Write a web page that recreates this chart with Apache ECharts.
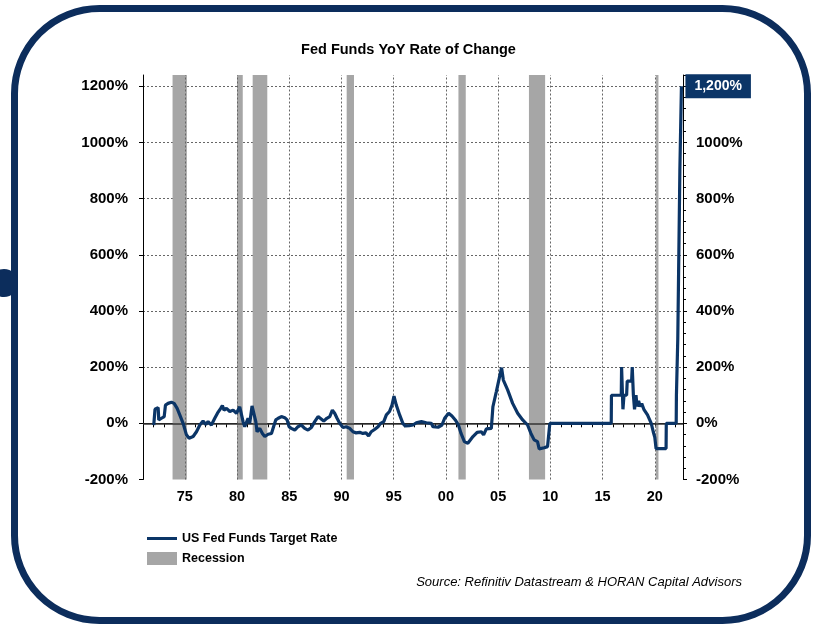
<!DOCTYPE html>
<html>
<head>
<meta charset="utf-8">
<script src="https://cdn.jsdelivr.net/npm/echarts@6/dist/echarts.min.js"></script>
<style>
  html, body { margin: 0; padding: 0; background: #fff; }
  #chart { width: 817px; height: 628px; }
</style>
</head>
<body>
<div id="chart"></div>
<script>
const FONT = '"Liberation Sans", Arial, sans-serif';

// x axis labels every 5 years (shown as 2 digits)
const labelYears = [1975, 1980, 1985, 1990, 1995, 2000, 2005, 2010, 2015, 2020];

// recession periods (decimal years)
const recessionStart = [1973.83, 1980.0, 1981.5, 1990.5, 2001.2, 2007.95, 2020.1];
const recessionEnd   = [1975.2, 1980.55, 1982.9, 1991.2, 2001.9, 2009.5, 2020.35];

// US Fed Funds Target Rate, YoY % change [year, value]
const fedFundsYoY = [
  [1972.03, -6], [1972.15, 50], [1972.22, 56], [1972.45, 56], [1972.51, 12], [1972.77, 18],
  [1973.03, 24], [1973.15, 65], [1973.40, 71], [1973.72, 75], [1973.98, 71], [1974.27, 53],
  [1974.52, 30], [1974.84, 0], [1975.16, -41], [1975.41, -53], [1975.80, -47], [1976.12, -30],
  [1976.44, -6], [1976.75, 8], [1977.01, -4], [1977.23, 6], [1977.55, -6], [1977.87, 18],
  [1978.13, 36], [1978.44, 53], [1978.60, 63], [1978.76, 47], [1978.99, 53], [1979.31, 42],
  [1979.63, 47], [1979.95, 36], [1980.26, 59], [1980.58, 6], [1980.74, -12], [1981.06, 18],
  [1981.22, 0], [1981.44, 62], [1981.55, 55], [1981.80, 6], [1981.92, -30], [1982.18, -18],
  [1982.43, -36], [1982.66, -47], [1982.98, -39], [1983.30, -36], [1983.50, -12], [1983.71, 12],
  [1983.95, 18], [1984.25, 24], [1984.57, 20], [1984.80, 12], [1984.98, -12], [1985.20, -18],
  [1985.53, -24], [1985.84, -12], [1986.16, -6], [1986.48, -18], [1986.80, -24], [1987.12, -15],
  [1987.44, 6], [1987.76, 24], [1987.92, 18], [1988.30, 8], [1988.60, 18], [1988.88, 24],
  [1989.13, 47], [1989.35, 36], [1989.58, 18], [1989.83, 0], [1990.15, -15], [1990.45, -12],
  [1990.79, -18], [1991.10, -30], [1991.40, -34], [1991.75, -32], [1992.05, -36], [1992.35, -34],
  [1992.60, -45], [1992.85, -30], [1993.20, -21], [1993.50, -12], [1993.75, 0], [1994.05, 6],
  [1994.30, 30], [1994.60, 42], [1994.84, 65], [1995.03, 97], [1995.25, 65], [1995.57, 30],
  [1995.88, 0], [1996.10, -9], [1996.50, -8], [1996.85, -6], [1997.17, 2], [1997.65, 6],
  [1998.13, 2], [1998.60, 0], [1998.76, -12], [1999.25, -14], [1999.62, -6], [1999.88, 18],
  [2000.26, 36], [2000.58, 26], [2000.90, 12], [2001.20, -6], [2001.45, -36], [2001.77, -65],
  [2002.10, -71], [2002.59, -47], [2002.99, -32], [2003.39, -30], [2003.61, -41], [2003.87, -20],
  [2004.35, -18], [2004.50, 59], [2004.83, 113], [2005.14, 166], [2005.33, 198], [2005.50, 154],
  [2005.91, 119], [2006.39, 71], [2006.87, 36], [2007.35, 12], [2007.82, -6], [2008.14, -36],
  [2008.45, -59], [2008.77, -65], [2008.93, -91], [2009.41, -87], [2009.73, -83], [2009.90, -83],
  [2009.95, 0], [2015.83, 0], [2015.85, 100], [2016.79, 100], [2016.82, 200], [2016.95, 50],
  [2017.05, 100], [2017.30, 100], [2017.36, 150], [2017.78, 150], [2017.84, 200], [2017.95, 100],
  [2018.06, 50], [2018.20, 100], [2018.30, 60], [2018.45, 80], [2018.60, 60], [2018.75, 70],
  [2018.95, 50], [2019.30, 30], [2019.66, 0], [2019.85, -30], [2020.00, -50], [2020.12, -90],
  [2021.08, -90], [2021.10, 0], [2022.05, 0], [2022.07, 100], [2022.20, 300], [2022.30, 600],
  [2022.40, 900], [2022.55, 1200]
];

const navy = '#0b3567';
const frameNavy = '#0c2d5c';
const recessionGray = '#a6a6a6';

const chart = echarts.init(document.getElementById('chart'));

chart.setOption({
  animation: false,
  textStyle: { fontFamily: FONT },
  title: {
    text: 'Fed Funds YoY Rate of Change',
    left: 'center',
    top: 37,
    textStyle: { fontSize: 14.5, fontWeight: 'bold', color: '#000', fontFamily: FONT }
  },
  legend: {
    orient: 'vertical',
    left: 142,
    top: 527,
    itemWidth: 30,
    itemHeight: 13,
    itemGap: 7,
    selectedMode: false,
    textStyle: { fontSize: 12.5, fontWeight: 'bold', color: '#000', fontFamily: FONT },
    data: [
      { name: 'US Fed Funds Target Rate', icon: 'path://M0,0 L30,0 L30,3 L0,3 Z' },
      { name: 'Recession', icon: 'rect' }
    ]
  },
  grid: { left: 143, right: 134, top: 75, bottom: 148.5 },
  xAxis: {
    type: 'value',
    min: 1971,
    max: 2022.7,
    interval: 1,
    axisLine: { lineStyle: { color: '#000', width: 1 } },
    axisTick: { show: true, length: 4, lineStyle: { color: '#000' } },
    axisLabel: {
      color: '#000',
      fontSize: 14.5,
      fontWeight: 'bold',
      margin: 10,
      showMaxLabel: false,
      formatter: v => (labelYears.indexOf(v) >= 0 ? String(v).slice(2) : '')
    },
    splitLine: { show: false }
  },
  yAxis: [
    {
      type: 'value',
      min: -200,
      max: 1240,
      interval: 200,
      position: 'left',
      axisLine: { show: true, lineStyle: { color: '#000' } },
      axisTick: { show: true, length: 4, lineStyle: { color: '#000' } },
      axisLabel: {
        color: '#000', fontSize: 15, fontWeight: 'bold', margin: 15,
        showMaxLabel: false,
        formatter: v => (v % 200 === 0 ? v + '%' : '')
      },
      splitLine: { show: true, showMaxLine: false, showMinLine: false, lineStyle: { color: '#666', type: [2, 2], width: 1 } }
    },
    {
      type: 'value',
      min: -200,
      max: 1240,
      interval: 200,
      position: 'right',
      axisLine: { show: true, lineStyle: { color: '#000' } },
      axisTick: { show: true, length: 4, lineStyle: { color: '#000' } },
      minorTick: { show: true, splitNumber: 5, length: 3, lineStyle: { color: '#000' } },
      axisLabel: {
        color: '#000', fontSize: 15, fontWeight: 'bold', margin: 13,
        showMaxLabel: false,
        formatter: v => (v % 200 === 0 && v !== 1200 ? v + '%' : '')
      },
      splitLine: { show: false }
    }
  ],
  series: [
    {
      name: 'Recession',
      type: 'line',
      data: [],
      z: 1,
      itemStyle: { color: recessionGray },
      lineStyle: { color: recessionGray },
      markArea: {
        silent: true,
        itemStyle: { color: recessionGray, opacity: 1 },
        data: recessionStart.map((s, i) => [{ xAxis: s }, { xAxis: recessionEnd[i] }])
      },
      markLine: {
        silent: true,
        symbol: 'none',
        label: { show: false },
        data: labelYears.map(y => ({ xAxis: y, lineStyle: { color: '#666', type: [2, 2], width: 1 } }))
          .concat([{ yAxis: 0, lineStyle: { color: '#333', type: 'solid', width: 1.5 } }])
      }
    },
    {
      name: 'US Fed Funds Target Rate',
      type: 'line',
      z: 5,
      data: fedFundsYoY,
      showSymbol: false,
      symbol: 'none',
      color: navy,
      lineStyle: { color: navy, width: 3.2 },
      endLabel: {
        show: true,
        distance: 4,
        formatter: p => p.value[1].toLocaleString('en-US') + '%',
        color: '#fff',
        fontSize: 14,
        fontWeight: 'bold',
        fontFamily: FONT,
        backgroundColor: navy,
        padding: [5, 9, 5, 9]
      }
    }
  ],
  graphic: [
    {
      type: 'rect',
      silent: true,
      shape: { x: 14.5, y: 8.5, width: 793, height: 612, r: 85 },
      style: { fill: 'none', stroke: frameNavy, lineWidth: 7 }
    },
    {
      type: 'circle',
      silent: true,
      shape: { cx: 4, cy: 283, r: 14 },
      style: { fill: frameNavy }
    },
    {
      type: 'text',
      right: 75,
      top: 576,
      style: {
        text: 'Source: Refinitiv Datastream & HORAN Capital Advisors',
        fill: '#000',
        font: 'italic 13px ' + FONT
      }
    }
  ]
});
</script>
</body>
</html>
